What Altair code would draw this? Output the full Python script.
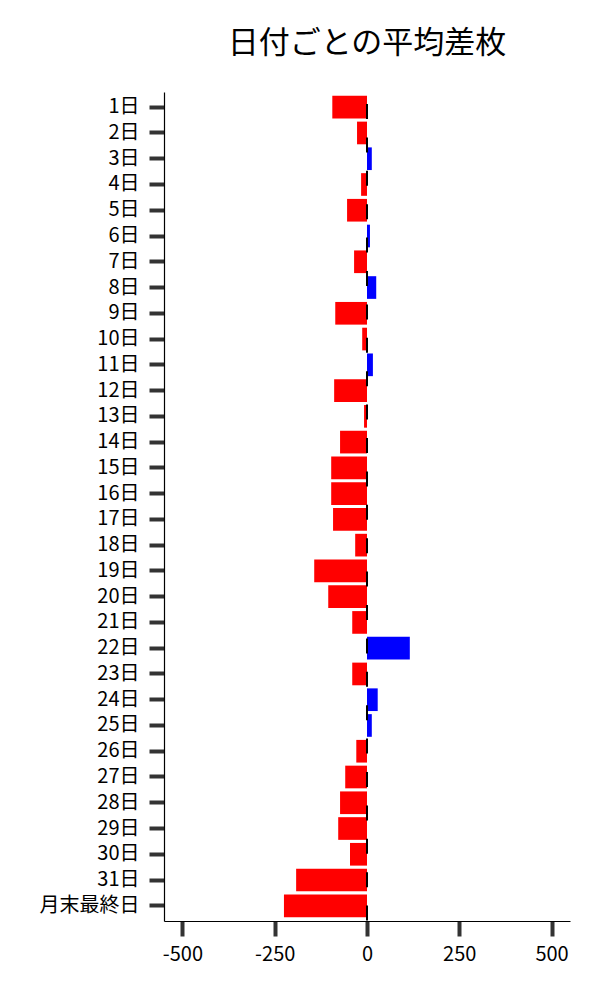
import altair as alt
import pandas as pd

days = [f"{i}日" for i in range(1, 32)] + ["月末最終日"]
values = [-94, -27, 13, -16, -54, 8, -35, 25, -86, -13, 16,
          -89, -8, -73, -97, -97, -92, -32, -143, -105, -40, 116,
          -40, 29, 13, -29, -59, -73, -78, -46, -192, -225]
x_ticks = [-500, -250, 0, 250, 500]

df = pd.DataFrame({"day": days, "value": values})
df["sign"] = ["pos" if v > 0 else "neg" for v in values]

FONT = "Noto Sans CJK JP"

y_enc = alt.Y("day:N", sort=days, title=None,
              scale=alt.Scale(paddingInner=0.12, paddingOuter=0.15),
              axis=alt.Axis(tickSize=15, tickWidth=4, tickColor="#333333",
                            domainColor="#000000", domainWidth=1.2,
                            labelFontSize=20, labelFont=FONT, labelColor="#000000",
                            labelPadding=10, grid=False))

bars = alt.Chart(df).mark_bar().encode(
    x=alt.X("value:Q", title=None,
            scale=alt.Scale(domain=[-550, 550], nice=False, zero=False),
            axis=alt.Axis(values=x_ticks, tickSize=15, tickWidth=4, tickColor="#333333",
                          domainColor="#000000", domainWidth=1.2,
                          labelFontSize=20, labelFont=FONT, labelColor="#000000",
                          labelPadding=8, grid=False, labelExpr="datum.value + ''")),
    y=y_enc,
    color=alt.Color("sign:N", scale=alt.Scale(domain=["neg", "pos"], range=["#ff0000", "#0000ff"]), legend=None),
)

zero_df = pd.DataFrame({"z": [0]})
zline = alt.Chart(zero_df).mark_rule(color="#000000", strokeWidth=2, strokeDash=[15, 18.4], strokeDashOffset=21.4).encode(
    x=alt.X("z:Q", scale=alt.Scale(domain=[-550, 550], nice=False, zero=False))
)

chart = alt.layer(bars, zline).properties(
    width=406, height=829,
    title=alt.TitleParams("日付ごとの平均差枚", font=FONT, fontSize=31, fontWeight="normal",
                          color="#000000", anchor="middle", offset=31),
    autosize=alt.AutoSizeParams(type="none"),
    padding={"left": 156, "top": 84, "right": 14, "bottom": 60},
).configure(font=FONT).configure_view(stroke=None, strokeWidth=0)

chart.save("out.html", embed_options={"renderer": "svg", "actions": False})
